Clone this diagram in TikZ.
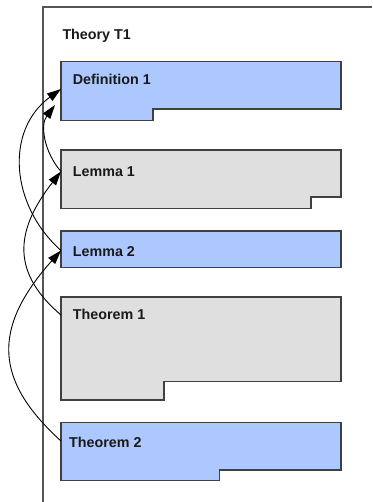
\documentclass[tikz,border=0pt]{standalone}
\usepackage{fontspec}
\setmainfont{Liberation Sans}
\usetikzlibrary{arrows.meta}
\definecolor{blueFill}{RGB}{173,200,255}
\definecolor{grayFill}{RGB}{223,223,223}
\definecolor{edgeGray}{RGB}{64,64,64}
\definecolor{frameGray}{RGB}{85,85,85}
\definecolor{textDark}{RGB}{25,25,25}
\tikzset{
  boxshape/.style={draw=edgeGray, line width=1.1pt},
  bluebox/.style={boxshape, fill=blueFill},
  graybox/.style={boxshape, fill=grayFill},
  frameline/.style={draw=frameGray, line width=1.1pt},
  label/.style={anchor=base west, inner sep=0pt, font=\bfseries\fontsize{14.3}{16}\selectfont, text=textDark},
  dep/.style={draw=black, line width=0.9pt, -{Triangle[length=14pt,width=9pt]}}
}
\begin{document}
\begin{tikzpicture}[x=1pt,y=-1pt]
\useasboundingbox (0,0) rectangle (372,502);
% frame
\draw[frameline] (43,502) -- (43,7) -- (372,7);
\node[label] (theory) at (62.3,39.5) {Theory T1};
% boxes
\draw[bluebox] (61,61.5) -- (341,61.5) -- (341,109) -- (153,109) -- (153,120.5) -- (61,120.5) -- cycle;
\draw[graybox] (61,150) -- (341,150) -- (341,197) -- (311,197) -- (311,208.5) -- (61,208.5) -- cycle;
\draw[bluebox] (61,231) rectangle (341,267.3);
\draw[graybox] (61,297) -- (341,297) -- (341,381.7) -- (164,381.7) -- (164,400) -- (61,400) -- cycle;
\draw[bluebox] (61,422.3) -- (341,422.3) -- (341,470) -- (219.5,470) -- (219.5,480.7) -- (61,480.7) -- cycle;
% labels
\node[label] (def1) at (72.7,84.3) {Definition 1};
\node[label] (lem1) at (72.7,176.7) {Lemma 1};
\node[label] (lem2) at (72.7,256.7) {Lemma 2};
\node[label] (thm1) at (72.7,319) {Theorem 1};
\node[label] (thm2) at (69,447.7) {Theorem 2};
% connection points
\coordinate (def1inB) at (61,89);
\coordinate (def1inA) at (55,105);
\coordinate (lem1w) at (61,171.5);
\coordinate (lem2w) at (61,250.5);
\coordinate (thm1w) at (61,315);
\coordinate (thm2w) at (61,441);
% dependencies
\draw[dep] (lem1w) .. controls (44,152) and (40,125) .. (def1inA);
\draw[dep] (lem2w) .. controls (10,205) and (5,130) .. (def1inB);
\draw[dep] (thm1w) .. controls (13,274) and (13,233) .. (lem1w);
\draw[dep] (thm2w) .. controls (-5,381) and (-9,329) .. (lem2w);
\end{tikzpicture}
\end{document}
